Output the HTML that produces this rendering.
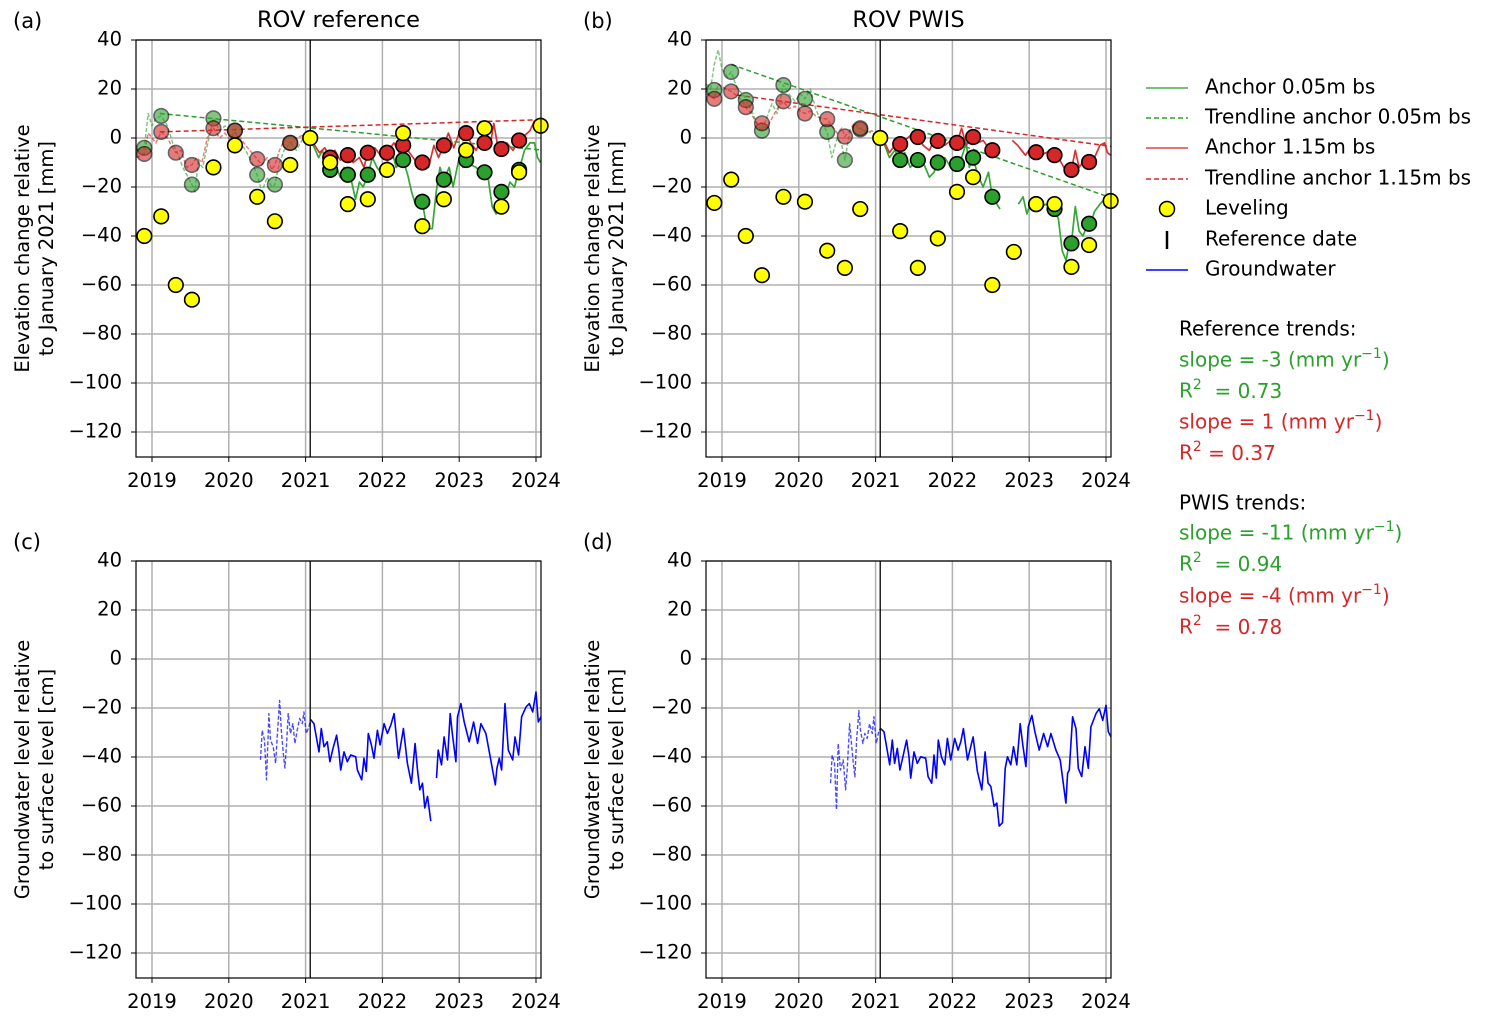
<!DOCTYPE html>
<html><head><meta charset="utf-8">
<style>
html,body{margin:0;padding:0;background:#fff;}
svg{display:block;font-family:"DejaVu Sans","Liberation Sans",sans-serif;}
</style></head>
<body>
<svg id="fig" width="1494" height="1017" viewBox="0 0 1494 1017" xmlns="http://www.w3.org/2000/svg">
<g font-size="20" fill="#000">
  <line x1="1146" y1="88" x2="1188" y2="88" stroke="#2ca02c" stroke-width="1.5" opacity="0.85"/>
  <text x="1205" y="88" dominant-baseline="middle">Anchor 0.05m bs</text>
  <line x1="1146" y1="118" x2="1188" y2="118" stroke="#2ca02c" stroke-width="1.5" stroke-dasharray="5,3"/>
  <text x="1205" y="118" dominant-baseline="middle">Trendline anchor 0.05m bs</text>
  <line x1="1146" y1="148" x2="1188" y2="148" stroke="#d62728" stroke-width="1.5" opacity="0.85"/>
  <text x="1205" y="148" dominant-baseline="middle">Anchor 1.15m bs</text>
  <line x1="1146" y1="179" x2="1188" y2="179" stroke="#d62728" stroke-width="1.5" stroke-dasharray="5,3"/>
  <text x="1205" y="179" dominant-baseline="middle">Trendline anchor 1.15m bs</text>
  <circle cx="1167" cy="209" r="7.5" fill="#ffff00" stroke="#000" stroke-width="1.5"/>
  <text x="1205" y="209" dominant-baseline="middle">Leveling</text>
  <line x1="1167" y1="231" x2="1167" y2="249" stroke="#000" stroke-width="2.5"/>
  <text x="1205" y="240" dominant-baseline="middle">Reference date</text>
  <line x1="1146" y1="270" x2="1188" y2="270" stroke="#0000ff" stroke-width="1.5"/>
  <text x="1205" y="270" dominant-baseline="middle">Groundwater</text>
</g>
<g font-size="20">
  <text x="1179" y="330" dominant-baseline="middle" fill="#000">Reference trends:</text>
  <text x="1179" y="361" dominant-baseline="middle" fill="#2ca02c">slope = -3 (mm yr<tspan font-size="14" dy="-7">−1</tspan><tspan dy="7">)</tspan></text>
  <text x="1179" y="392" dominant-baseline="middle" fill="#2ca02c">R<tspan font-size="14" dy="-7">2</tspan><tspan dy="7" xml:space="preserve">  = 0.73</tspan></text>
  <text x="1179" y="423" dominant-baseline="middle" fill="#d62728">slope = 1 (mm yr<tspan font-size="14" dy="-7">−1</tspan><tspan dy="7">)</tspan></text>
  <text x="1179" y="454" dominant-baseline="middle" fill="#d62728">R<tspan font-size="14" dy="-7">2</tspan><tspan dy="7" xml:space="preserve"> = 0.37</tspan></text>
  <text x="1179" y="504" dominant-baseline="middle" fill="#000">PWIS trends:</text>
  <text x="1179" y="534" dominant-baseline="middle" fill="#2ca02c">slope = -11 (mm yr<tspan font-size="14" dy="-7">−1</tspan><tspan dy="7">)</tspan></text>
  <text x="1179" y="565" dominant-baseline="middle" fill="#2ca02c">R<tspan font-size="14" dy="-7">2</tspan><tspan dy="7" xml:space="preserve">  = 0.94</tspan></text>
  <text x="1179" y="597" dominant-baseline="middle" fill="#d62728">slope = -4 (mm yr<tspan font-size="14" dy="-7">−1</tspan><tspan dy="7">)</tspan></text>
  <text x="1179" y="628" dominant-baseline="middle" fill="#d62728">R<tspan font-size="14" dy="-7">2</tspan><tspan dy="7" xml:space="preserve">  = 0.78</tspan></text>
</g>
</svg>
<script>
// ---------- data ----------
const xTicks = [2019, 2020, 2021, 2022, 2023, 2024];
const yTicks = [40, 20, 0, -20, -40, -60, -80, -100, -120];
const refDate = 2021.06;

// Panel (a) ROV reference
const aLevT = [2018.9,2019.12,2019.31,2019.52,2019.8,2020.08,2020.37,2020.6,2020.8,2021.06,2021.32,2021.55,2021.81,2022.06,2022.27,2022.52,2022.8,2023.09,2023.33,2023.55,2023.78,2024.06];
const aLevV = [-40,-32,-60,-66,-12,-3,-24,-34,-11,0,-10,-27,-25,-13,2,-36,-25,-5,4,-28,-14,5];
const aGreenDotT = [2018.9,2019.12,2019.52,2019.8,2020.08,2020.37,2020.6,2020.8,2021.32,2021.55,2021.81,2022.27,2022.52,2022.8,2023.09,2023.33,2023.55,2023.78];
const aGreenDotV = [-4,9,-19,8,3,-15,-19,-2,-13,-15,-15,-9,-26,-17,-9,-14,-22,-13];
const aRedDotT = [2018.9,2019.12,2019.31,2019.52,2019.8,2020.08,2020.37,2020.6,2020.8,2021.32,2021.55,2021.81,2022.06,2022.27,2022.52,2022.8,2023.09,2023.33,2023.55,2023.78];
const aRedDotV = [-6.5,2.5,-6,-11,4,3,-8.6,-11,-2,-8,-7,-6,-6,-3,-10,-3,2,-2,-4.5,-1];
const aGreenT = [2018.8,2018.9,2018.95,2019.0,2019.05,2019.12,2019.2,2019.27,2019.33,2019.4,2019.47,2019.52,2019.56,2019.6,2019.66,2019.72,2019.8,2019.88,2019.95,2020.02,2020.08,2020.15,2020.22,2020.3,2020.37,2020.43,2020.5,2020.56,2020.6,2020.66,2020.72,2020.8,2020.88,2020.95,2021.03,2021.06,2021.1,2021.17,2021.22,2021.28,2021.32,2021.38,2021.45,2021.5,2021.55,2021.6,2021.65,2021.7,2021.75,2021.81,2021.87,2021.93,2022.0,2022.06,2022.12,2022.18,2022.27,2022.33,2022.38,2022.43,2022.5,2022.52,2022.58,2022.65,2022.7,2022.75,2022.8,2022.87,2022.92,2023.0,2023.05,2023.09,2023.15,2023.22,2023.28,2023.33,2023.38,2023.43,2023.48,2023.52,2023.55,2023.6,2023.66,2023.72,2023.78,2023.85,2023.92,2023.98,2024.02,2024.06];
const aGreenV = [-5,-4,10,5,8,9,5,-2,-6,-12,-16,-19,-22,-10,-12,-3,8,3,5,0,3,-2,-5,-10,-15,-22,-16,-20,-19,-10,-5,-2,-5,-1,1,0,-3,-8,-5,-12,-13,-10,-16,-12,-15,-18,-25,-18,-20,-15,-8,-12,-15,-10,-5,-12,-9,-15,-22,-27,-28,-26,-37,-37,-22,-12,-17,-12,-20,-8,-12,-9,-11,-12,-14,-14,-17,-28,-31,-25,-22,-24,-18,-20,-13,-5,-2,-2,-8,-10];
const aRedT = [2018.8,2018.9,2018.95,2019.05,2019.12,2019.2,2019.27,2019.31,2019.38,2019.45,2019.52,2019.58,2019.65,2019.72,2019.8,2019.88,2019.95,2020.02,2020.08,2020.15,2020.22,2020.3,2020.37,2020.43,2020.5,2020.56,2020.6,2020.66,2020.72,2020.8,2020.88,2020.95,2021.03,2021.06,2021.12,2021.18,2021.25,2021.32,2021.38,2021.45,2021.55,2021.62,2021.7,2021.76,2021.81,2021.9,2022.0,2022.06,2022.15,2022.22,2022.27,2022.33,2022.4,2022.47,2022.52,2022.6,2022.67,2022.73,2022.8,2022.86,2022.93,2023.0,2023.05,2023.09,2023.15,2023.22,2023.28,2023.33,2023.4,2023.45,2023.5,2023.55,2023.62,2023.7,2023.78,2023.85,2023.92,2023.98,2024.02,2024.06];
const aRedV = [-8,-6.5,2,-2,2.5,0,-4,-6,-5,-12,-11,-8,-10,0,4,0,2,-1,2,0,-3,-6,-8.6,-11,-8,-13,-11,-5,-1,-2,0,1,0,0,-3,-6,-4,-8,-5,-9,-7,-10,-8,-12,-6,-4,-8,-6,-2,-6,-3,-5,-8,-11,-10,-12,-3,-8,-3,2,-4,2,-1,2,-2,-5,-1,-2,-4,6,-3,-4.5,-2,-5,-1,1,3,7,4,5];
const aTrendG = {t0:2019.1, t1:2024.06, b:10, slope:-3};
const aTrendR = {t0:2019.1, t1:2024.06, b:2.5, slope:1};

// Panel (b) ROV PWIS
const bLevT = [2018.9,2019.12,2019.31,2019.52,2019.8,2020.08,2020.37,2020.6,2020.8,2021.06,2021.32,2021.55,2021.81,2022.06,2022.27,2022.52,2022.8,2023.09,2023.33,2023.55,2023.78,2024.06];
const bLevV = [-26.5,-17,-40,-56,-24,-26,-46,-53,-29,0,-38,-53,-41,-22,-16,-60,-46.5,-27,-27,-52.6,-43.7,-25.7];
const bGreenDotT = [2018.9,2019.12,2019.31,2019.52,2019.8,2020.08,2020.37,2020.6,2020.8,2021.32,2021.55,2021.81,2022.06,2022.27,2022.52,2023.09,2023.33,2023.55,2023.78];
const bGreenDotV = [19.6,27,15.5,3,21.6,16,2.5,-9,3.5,-9,-9,-10,-10.6,-8,-24,-27,-29,-43,-35];
const bRedDotT = [2018.9,2019.12,2019.31,2019.52,2019.8,2020.08,2020.37,2020.6,2020.8,2021.32,2021.55,2021.81,2022.06,2022.27,2022.52,2023.09,2023.33,2023.55,2023.78];
const bRedDotV = [16,19,12.6,6,15,10,7.7,0.6,4,-2.5,0.4,-1.2,-2,0.4,-5,-5.8,-7,-13,-9.8];
const bGreenT = [2018.8,2018.85,2018.9,2018.95,2019.0,2019.07,2019.12,2019.2,2019.27,2019.33,2019.4,2019.47,2019.52,2019.58,2019.65,2019.72,2019.8,2019.87,2019.95,2020.02,2020.08,2020.15,2020.22,2020.3,2020.37,2020.43,2020.5,2020.56,2020.6,2020.66,2020.72,2020.8,2020.88,2020.95,2021.03,2021.06,2021.12,2021.18,2021.25,2021.32,2021.38,2021.45,2021.55,2021.62,2021.7,2021.76,2021.81,2021.9,2021.98,2022.06,2022.12,2022.18,2022.22,2022.27,2022.33,2022.4,2022.47,2022.52,2022.58,2022.62,2022.74,2022.86,2022.92,2022.97,2023.02,2023.09,2023.15,2023.22,2023.28,2023.33,2023.38,2023.43,2023.48,2023.52,2023.55,2023.6,2023.65,2023.7,2023.75,2023.8,2023.85,2023.92,2023.98,2024.02,2024.06];
const bGreenV = [22,20,30,36,28,25,27,20,18,15,10,5,3,8,14,10,21.6,18,15,18,16,20,12,6,2.5,-8,0,-3,-9,2,5,3.5,3,2,1,0,-3,-8,-5,-9,-6,-12,-9,-10,-16,-14,-10,-8,-12,-10.6,-8,-2,-12,-8,-15,-20,-14,-24,-27,-29,null,-27,-24,-31,-26,-27,-28,-27,-29,-29,-33,-46,-50,-43,-43,-28,-38,-40,-36,-35,-30,-27,-25,-23,-28];
const bRedT = [2018.8,2018.9,2018.95,2019.05,2019.12,2019.2,2019.27,2019.31,2019.38,2019.45,2019.52,2019.58,2019.65,2019.72,2019.8,2019.87,2019.95,2020.02,2020.08,2020.15,2020.22,2020.3,2020.37,2020.43,2020.5,2020.56,2020.6,2020.66,2020.72,2020.8,2020.88,2020.95,2021.03,2021.06,2021.12,2021.18,2021.25,2021.32,2021.38,2021.45,2021.55,2021.62,2021.7,2021.76,2021.81,2021.9,2021.98,2022.06,2022.12,2022.18,2022.22,2022.27,2022.33,2022.4,2022.47,2022.52,2022.58,2022.68,2022.78,2022.85,2022.9,2022.95,2023.02,2023.09,2023.15,2023.22,2023.28,2023.33,2023.4,2023.45,2023.5,2023.55,2023.6,2023.65,2023.72,2023.78,2023.85,2023.92,2023.98,2024.02,2024.06];
const bRedV = [18,16,22,20,19,17,15,12.6,10,6,6,4,8,12,15,12,13,11,10,11,9,8,7.7,5,2,4,0.6,3,6,4,2,3,1,0,-2,-6,-3,-2.5,-1,1,0.4,-3,-5,-1,-1.2,-3,-1,-2,4,-3,-1,0.4,-2,-1,-4,-5,-6,null,-1,-3,-5,-7,-4,-5.8,-7,-6,-5,-7,-9,-12,-14,-13,-5,-12,-9,-10,-8,-3,-2,-6,-7];
const bTrendG = {t0:2019.12, t1:2024.06, b:30, slope:-11};
const bTrendR = {t0:2019.2, t1:2024.06, b:17.5, slope:-4.3};

// Panel (c) groundwater reference
const cDashT = [2020.413,2020.435,2020.465,2020.491,2020.522,2020.543,2020.578,2020.609,2020.630,2020.661,2020.683,2020.709,2020.730,2020.752,2020.774,2020.804,2020.835,2020.861,2020.891,2020.922,2020.957,2020.978,2021.009,2021.043,2021.065];
const cDashV = [-41.2,-29.1,-33.1,-49.3,-22.3,-33.1,-35.8,-42.6,-31.8,-16.9,-29.1,-38.5,-44.5,-34.5,-22.3,-30.4,-26.4,-34.5,-29.1,-24.3,-26.4,-21.6,-30.4,-27.7,-24.7];
const cSolT = [2021.065,2021.109,2021.139,2021.174,2021.204,2021.239,2021.283,2021.317,2021.357,2021.404,2021.435,2021.457,2021.500,2021.543,2021.587,2021.652,2021.674,2021.730,2021.761,2021.791,2021.817,2021.857,2021.891,2021.935,2021.970,2022.022,2022.065,2022.109,2022.152,2022.209,2022.274,2022.326,2022.378,2022.426,2022.457,2022.487,2022.522,2022.552,2022.587,2022.630,2022.67,2022.704,2022.726,2022.770,2022.804,2022.848,2022.883,2022.913,2022.957,2022.978,2023.022,2023.065,2023.130,2023.187,2023.239,2023.283,2023.348,2023.404,2023.470,2023.491,2023.522,2023.552,2023.596,2023.639,2023.696,2023.726,2023.774,2023.813,2023.870,2023.913,2023.957,2024.000,2024.030,2024.065];
const cSolV = [-24.7,-26.4,-31.8,-37.9,-28.4,-35.8,-33.8,-41.9,-36.5,-31.1,-37.9,-45.3,-37.9,-41.9,-39.2,-39.9,-45.3,-49.3,-40.5,-45.9,-30.4,-35.1,-40.5,-29.1,-35.1,-26.4,-30.4,-27.0,-22.3,-40.5,-28.4,-42.6,-50.7,-34.5,-45.3,-53.4,-50.7,-60.8,-56.1,-66.2,null,-48.6,-37.2,-43.2,-31.8,-41.2,-22.3,-31.1,-41.9,-23.6,-18.2,-25.7,-33.8,-25.7,-34.5,-26.4,-30.4,-39.9,-51.4,-44.6,-40.5,-45.3,-18.2,-37.2,-41.2,-31.8,-39.2,-23.6,-19.6,-18.2,-21.6,-13.5,-25.7,-23.6];

// Panel (d) groundwater PWIS
const dDashT = [2020.413,2020.435,2020.465,2020.491,2020.513,2020.543,2020.578,2020.609,2020.630,2020.661,2020.683,2020.709,2020.730,2020.752,2020.783,2020.804,2020.835,2020.861,2020.891,2020.922,2020.957,2020.978,2021.009,2021.043,2021.065];
const dDashV = [-50.7,-39.2,-42.6,-61.5,-34.5,-45.3,-41.2,-53.4,-45.3,-26.4,-33.8,-42.6,-48.1,-33.1,-21.0,-29.1,-34.5,-30.4,-32.4,-26.4,-30.4,-23.6,-34.5,-29.1,-28.4];
const dSolT = [2021.065,2021.109,2021.143,2021.183,2021.217,2021.248,2021.283,2021.317,2021.361,2021.404,2021.435,2021.457,2021.500,2021.543,2021.587,2021.652,2021.683,2021.730,2021.761,2021.791,2021.817,2021.857,2021.900,2021.935,2021.978,2022.030,2022.074,2022.109,2022.143,2022.196,2022.270,2022.326,2022.383,2022.426,2022.465,2022.500,2022.543,2022.578,2022.609,2022.652,2022.687,2022.717,2022.761,2022.796,2022.839,2022.883,2022.917,2022.957,2022.987,2023.035,2023.074,2023.130,2023.187,2023.239,2023.283,2023.348,2023.404,2023.478,2023.500,2023.522,2023.565,2023.609,2023.639,2023.683,2023.726,2023.770,2023.804,2023.870,2023.913,2023.957,2024.000,2024.030,2024.065];
const dSolV = [-28.4,-29.7,-35.8,-43.2,-33.1,-42.6,-36.5,-45.3,-39.2,-33.1,-39.9,-48.6,-37.9,-42.6,-39.9,-40.5,-48.0,-50.7,-39.2,-48.6,-33.1,-39.9,-43.2,-32.4,-41.2,-32.4,-37.2,-33.8,-28.4,-41.2,-31.8,-45.9,-53.4,-37.9,-50.7,-52.0,-60.1,-58.8,-68.2,-66.8,-44.6,-39.9,-43.2,-35.8,-43.2,-26.4,-35.1,-43.9,-27.7,-23.0,-29.7,-37.2,-30.4,-35.8,-30.4,-37.2,-41.2,-58.8,-46.6,-45.3,-23.6,-28.4,-44.6,-48.0,-35.8,-44.6,-27.7,-22.3,-20.3,-25.0,-18.9,-29.7,-31.8];

// ---------- drawing ----------
const NS = 'http://www.w3.org/2000/svg';
const svg = document.getElementById('fig');
function mk(tag, attrs, parent) {
  const e = document.createElementNS(NS, tag);
  for (const k in attrs) e.setAttribute(k, attrs[k]);
  (parent || svg).appendChild(e);
  return e;
}
const Y_MAX = 40;

function makePanel(cfg) {
  const g = mk('g', {});
  
  
  const X = t => cfg.x2019 + (t - 2019) * 76.8;
  const Y = v => cfg.top + (Y_MAX - v) * 2.45;
  const clipId = 'clip-' + cfg.name;
  const cp = mk('clipPath', {id: clipId}, g);
  mk('rect', {x: cfg.left, y: cfg.top, width: cfg.right - cfg.left, height: cfg.bottom - cfg.top}, cp);
  const grid = mk('g', {stroke: '#b0b0b0', 'stroke-width': 1.5}, g);
  
  
  xTicks.forEach(t => mk('line', {x1: X(t), x2: X(t), y1: cfg.top, y2: cfg.bottom}, grid));
  yTicks.forEach(v => mk('line', {x1: cfg.left, x2: cfg.right, y1: Y(v), y2: Y(v)}, grid));
  xTicks.forEach(t => {
    mk('line', {x1: X(t), x2: X(t), y1: cfg.bottom, y2: cfg.bottom + 5, stroke: '#000', 'stroke-width': 1}, g);
    const tx = mk('text', {x: X(t), y: cfg.bottom + 30, 'text-anchor': 'middle', 'font-size': 19.5}, g);
    tx.textContent = t;
    
    
  });
  yTicks.forEach(v => {
    mk('line', {x1: cfg.left - 5, x2: cfg.left, y1: Y(v), y2: Y(v), stroke: '#000', 'stroke-width': 1}, g);
    const ty = mk('text', {x: cfg.left - 14, y: Y(v), 'text-anchor': 'end', 'dominant-baseline': 'middle', 'font-size': 19.5}, g);
    ty.textContent = v < 0 ? '\u2212' + Math.abs(v) : String(v);
    
    
  });
  const plot = mk('g', {'clip-path': 'url(#' + clipId + ')'}, g);
  
  
  function path(T, V, style) {
    let d = '', pen = false;
    for (let i = 0; i < T.length; i++) {
      if (V[i] === null) { pen = false; continue; }
      d += (pen ? 'L' : 'M') + X(T[i]).toFixed(1) + ',' + Y(V[i]).toFixed(1);
      pen = true;
    }
    return mk('path', Object.assign({d: d, fill: 'none', 'stroke-linejoin': 'round'}, style), plot);
  }
  function split(T, V) {
    const pre = [[], []], post = [[], []];
    T.forEach((t, i) => {
      if (t <= refDate) { pre[0].push(t); pre[1].push(V[i]); }
      if (t >= refDate) { post[0].push(t); post[1].push(V[i]); }
    });
    return [pre, post];
  }
  if (cfg.green) {
    [[cfg.green, '#2ca02c', 'green'], [cfg.red, '#d62728', 'red']].forEach(([s, col, nm]) => {
      const [pre, post] = split(s.T, s.V);
      const p1 = path(pre[0], pre[1], {stroke: col, 'stroke-width': 1.5, 'stroke-dasharray': '4,2', opacity: 0.6});
      
      
      const p2 = path(post[0], post[1], {stroke: col, 'stroke-width': 1.7, opacity: 0.95});
      
      
    });
    [[cfg.trendG, '#2ca02c', 'green'], [cfg.trendR, '#d62728', 'red']].forEach(([tr, col, nm]) => {
      const l = mk('line', {x1: X(tr.t0), y1: Y(tr.b), x2: X(tr.t1), y2: Y(tr.b + tr.slope * (tr.t1 - tr.t0)), stroke: col, 'stroke-width': 1.5, 'stroke-dasharray': '5,3'}, plot);
      
      
    });
  }
  if (cfg.gwDash) {
    const p1 = path(cfg.gwDash.T, cfg.gwDash.V, {stroke: '#0000ff', 'stroke-width': 1.4, 'stroke-dasharray': '4,2', opacity: 0.7});
    
    
    const p2 = path(cfg.gwSol.T, cfg.gwSol.V, {stroke: '#0000ff', 'stroke-width': 1.6});
    
    
  }
  const rl = mk('line', {x1: X(refDate), x2: X(refDate), y1: cfg.top, y2: cfg.bottom, stroke: '#000', 'stroke-width': 1.3}, g);
  
  
  if (cfg.green) {
    function dots(T, V, fill, nm) {
      T.forEach((t, i) => {
        const pre = t < refDate - 0.01 && fill !== '#ffff00';
        const c = mk('circle', {cx: X(t), cy: Y(V[i]), r: 7.3, fill: fill, stroke: '#000', 'stroke-width': 1.6, opacity: pre ? 0.6 : 1}, g);
        
        
      });
    }
    dots(cfg.gDots.T, cfg.gDots.V, '#2ca02c', 'green-anchor-point');
    dots(cfg.rDots.T, cfg.rDots.V, '#d62728', 'red-anchor-point');
    dots(cfg.lev.T, cfg.lev.V, '#ffff00', 'leveling-point');
  }
  const sp = mk('rect', {x: cfg.left, y: cfg.top, width: cfg.right - cfg.left, height: cfg.bottom - cfg.top, fill: 'none', stroke: '#000', 'stroke-width': 1.2}, g);
  
  
  const cx = cfg.left - 107, cy = (cfg.top + cfg.bottom) / 2;
  const yl = mk('text', {transform: 'translate(' + cx + ',' + cy + ') rotate(-90)', 'text-anchor': 'middle', 'font-size': 19.5}, g);
  
  
  const t1 = mk('tspan', {x: 0, y: 0}, yl); t1.textContent = cfg.ylab[0];
  const t2 = mk('tspan', {x: 0, y: 24}, yl); t2.textContent = cfg.ylab[1];
  const pl = mk('text', {x: cfg.left - 123, y: cfg.top - 12, 'font-size': 21}, g);
  pl.textContent = cfg.letter;
  
  
  if (cfg.title) {
    const ti = mk('text', {x: (cfg.left + cfg.right) / 2, y: cfg.top - 13, 'text-anchor': 'middle', 'font-size': 22.5}, g);
    ti.textContent = cfg.title;
    
    
  }
}
const elevLab = ['Elevation change relative', 'to January 2021 [mm]'];
const gwLab = ['Groundwater level relative', 'to surface level [cm]'];
makePanel({name: 'panel-a', letter: '(a)', title: 'ROV reference', left: 136, right: 541, top: 40, bottom: 457, x2019: 152, ylab: elevLab,
  green: {T: aGreenT, V: aGreenV}, red: {T: aRedT, V: aRedV}, trendG: aTrendG, trendR: aTrendR,
  gDots: {T: aGreenDotT, V: aGreenDotV}, rDots: {T: aRedDotT, V: aRedDotV}, lev: {T: aLevT, V: aLevV}});
makePanel({name: 'panel-b', letter: '(b)', title: 'ROV PWIS', left: 706, right: 1111, top: 40, bottom: 457, x2019: 722, ylab: elevLab,
  green: {T: bGreenT, V: bGreenV}, red: {T: bRedT, V: bRedV}, trendG: bTrendG, trendR: bTrendR,
  gDots: {T: bGreenDotT, V: bGreenDotV}, rDots: {T: bRedDotT, V: bRedDotV}, lev: {T: bLevT, V: bLevV}});
makePanel({name: 'panel-c', letter: '(c)', left: 136, right: 541, top: 561, bottom: 978, x2019: 152, ylab: gwLab,
  gwDash: {T: cDashT, V: cDashV}, gwSol: {T: cSolT, V: cSolV}});
makePanel({name: 'panel-d', letter: '(d)', left: 706, right: 1111, top: 561, bottom: 978, x2019: 722, ylab: gwLab,
  gwDash: {T: dDashT, V: dDashV}, gwSol: {T: dSolT, V: dSolV}});
</script>
</body></html>
